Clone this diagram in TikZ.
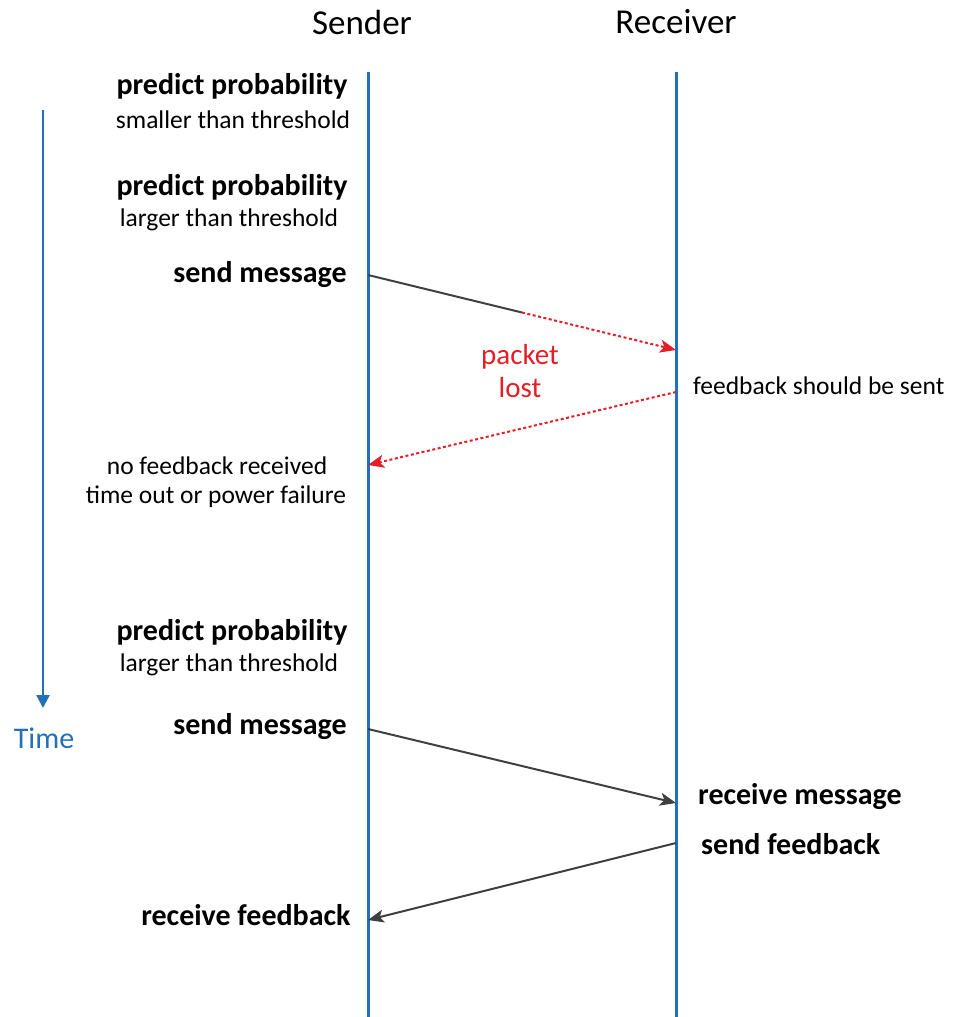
\documentclass[tikz,border=0pt]{standalone}
\usepackage{fontspec}
\setmainfont{Carlito}
\usetikzlibrary{arrows.meta,positioning}

\definecolor{lineblue}{RGB}{34,113,182}
\definecolor{msggray}{RGB}{64,64,64}
\definecolor{lostred}{RGB}{228,30,38}

\tikzset{
	lifeline/.style={draw=lineblue, line width=3pt},
	party/.style={font=\fontsize{35}{42}\selectfont, inner sep=0pt},
	act/.style={font=\bfseries\fontsize{30}{36}\selectfont, inner sep=0pt},
	note/.style={font=\fontsize{25.5}{30}\selectfont, inner sep=0pt},
	msg/.style={draw=msggray, line width=2pt, -{Stealth[length=16pt, width=13pt, inset=4pt]}},
	lostmsg/.style={draw=lostred, line width=2pt, dash pattern=on 3pt off 2.5pt, -{Stealth[length=16pt, width=13pt, inset=4pt]}},
}

\begin{document}
\begin{tikzpicture}[x=1pt, y=-1pt]
	\useasboundingbox (0,0) rectangle (964,1017);

	% the two parties and their lifelines
	\node[party] (sender) at (362,22) {Sender};
	\node[party] (receiver) at (676,22) {Receiver};
	\coordinate (sndtop) at (368,72);
	\coordinate (sndbot) at (368,1017);
	\coordinate (rcvtop) at (676,72);
	\coordinate (rcvbot) at (676,1017);
	\draw[lifeline] (sndtop) -- (sndbot);
	\draw[lifeline] (rcvtop) -- (rcvbot);

	% time axis
	\coordinate (ttop) at (43,110);
	\coordinate (tbot) at (43,708);
	\draw[draw=lineblue, line width=2.5pt, -{Triangle[length=13pt, width=13pt]}] (ttop) -- (tbot);
	\node[font=\fontsize{30}{36}\selectfont, text=lineblue, inner sep=0pt] (time) at (44,738) {Time};

	% first round: packet is lost
	\node[act] (pred1) at (232,86) {predict probability};
	\node[note] (pred1sub) at (233,120) {smaller than threshold};
	\node[act] (pred2) at (232,187) {predict probability};
	\node[note] (pred2sub) at (229,220) {larger than threshold};
	\node[act] (send1) at (260,275) {send message};

	\coordinate (snd1) at (368,275);
	\coordinate (drop) at (522,312.5);
	\coordinate (rcv1) at (676,350);
	\draw[draw=msggray, line width=2pt] (snd1) -- (drop);
	\draw[lostmsg] (drop) -- (rcv1);
	\node[font=\fontsize{29}{33}\selectfont, text=lostred, align=center, inner sep=0pt] (lost) at (520,371) {packet\\lost};

	\node[note, anchor=west] (should) at (693,386) {feedback should be sent};
	\coordinate (rcv2) at (676,392);
	\coordinate (snd2) at (368,465);
	\draw[lostmsg] (rcv2) -- (snd2);
	\node[note] (nofb) at (217,466) {no feedback received};
	\node[note] (timeout) at (216,497) {time out or power failure};

	% second round: message and feedback arrive
	\node[act] (pred3) at (232,632) {predict probability};
	\node[note] (pred3sub) at (229,665) {larger than threshold};
	\node[act] (send2) at (260,727) {send message};

	\coordinate (snd3) at (368,729);
	\coordinate (rcv3) at (676,803);
	\draw[msg] (snd3) -- (rcv3);
	\node[act, anchor=west] (recvmsg) at (698,797) {receive message};
	\node[act, anchor=west] (sendfb) at (701,844) {send feedback};

	\coordinate (rcv4) at (676,843);
	\coordinate (snd4) at (368,920);
	\draw[msg] (rcv4) -- (snd4);
	\node[act] (recvfb) at (246,915) {receive feedback};
\end{tikzpicture}
\end{document}
